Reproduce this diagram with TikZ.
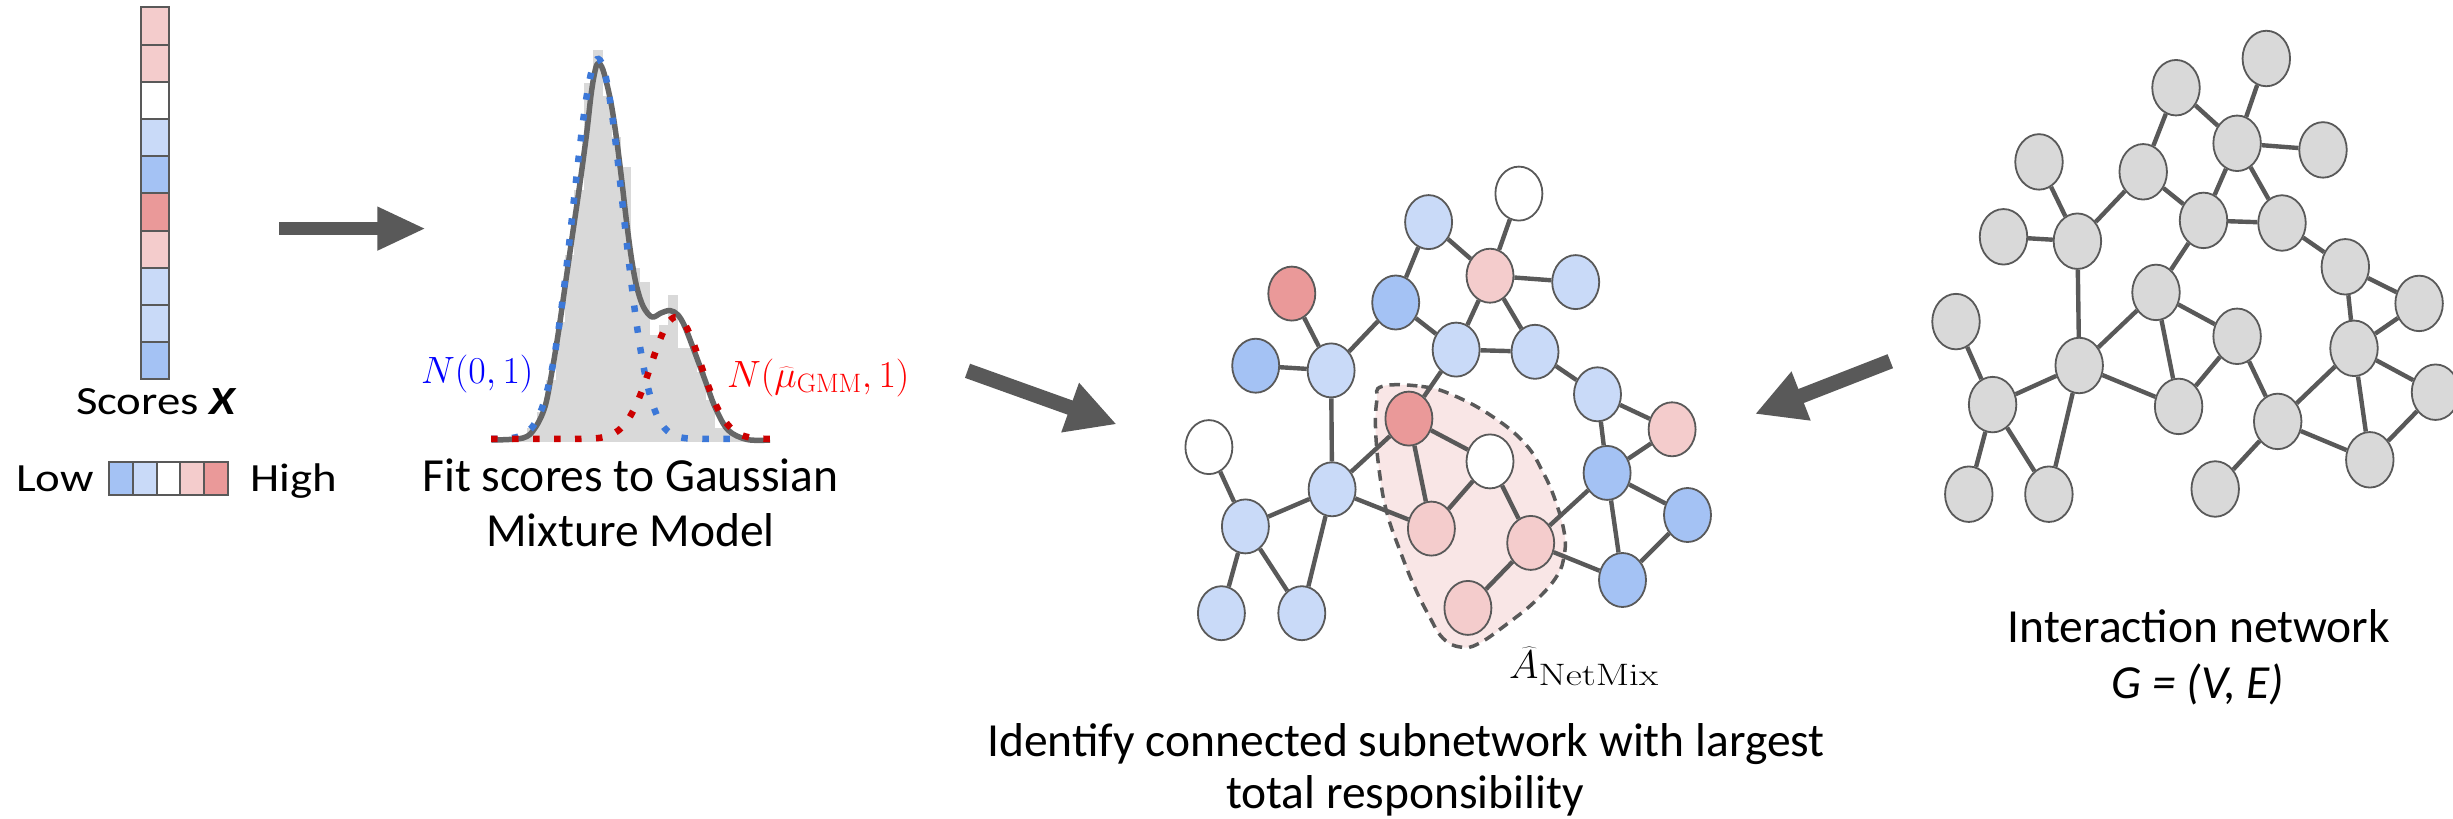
\documentclass[tikz,border=0pt]{standalone}
\usepackage{fix-cm}
\usepackage{graphicx}
\usepackage[no-math]{fontspec}
\usetikzlibrary{arrows.meta,shapes.geometric}

\newfontfamily\labelfont{Carlito}
\newfontfamily\widefont[FakeStretch=1.17]{Carlito}

\definecolor{lineg}{HTML}{595959}
\definecolor{curveg}{HTML}{666666}
\definecolor{histg}{HTML}{D9D9D9}
\definecolor{sPink}{HTML}{F4CCCC}
\definecolor{sRed}{HTML}{EA9999}
\definecolor{sLblue}{HTML}{C9DAF8}
\definecolor{sBlue}{HTML}{A4C2F4}
\definecolor{nodeg}{HTML}{D9D9D9}
\definecolor{blobfill}{HTML}{F9E6E6}
\definecolor{gmmblue}{HTML}{3C78D8}
\definecolor{gmmred}{HTML}{CC0000}

\tikzset{
  cell/.style={draw=lineg, line width=2pt, minimum width=28.5pt, minimum height=37.2pt, inner sep=0pt, outer sep=0pt},
  lcell/.style={draw=lineg, line width=2pt, minimum width=23.8pt, minimum height=33pt, inner sep=0pt, outer sep=0pt},
  smalltxt/.style={inner sep=0pt, font=\widefont\fontsize{40}{48}\selectfont},
  bigtxt/.style={inner sep=0pt, font=\labelfont\fontsize{47.5}{55}\selectfont},
  mathtxt/.style={inner sep=0pt, font=\fontsize{38}{46}\selectfont},
  mnode/.style={ellipse, draw=lineg, line width=1.8pt, minimum width=47pt, minimum height=54pt, inner sep=0pt},
  rnode/.style={mnode, fill=nodeg, minimum width=47.5pt, minimum height=55.5pt},
  net/.style={draw=lineg, line width=4.4pt},
  bigarrow/.style={draw=lineg, line width=#1},
  gmmcurve/.style={line width=6.5pt, dash pattern=on 6.5pt off 14.5pt},
}

\begin{document}
\begin{tikzpicture}[x=1pt, y=-1pt]
\useasboundingbox (0,0) rectangle (2453,819);
\fill[white] (0,0) rectangle (2453,819);

% ---- score column and legend ----
\foreach \col [count=\i] in {sPink,sPink,white,sLblue,sBlue,sRed,sPink,sLblue,sLblue,sBlue}
  \node[cell, fill=\col] (c\i) at (155, {7.3+37.2*(\i-0.5)}) {};
\node[smalltxt, anchor=base] (scoreslbl) at (156.5,414) {Scores \textbf{\textit{X}}};
\foreach \col [count=\i] in {sBlue,sLblue,white,sPink,sRed}
  \node[lcell, fill=\col] (l\i) at ({109+23.8*(\i-0.5)}, 478.5) {};
\node[smalltxt, anchor=base] (lowlbl) at (55,491) {Low};
\node[smalltxt, anchor=base] (highlbl) at (293.5,491) {High};

% ---- arrows between stages ----
\coordinate (a1s) at (279,228.6);
\coordinate (a1e) at (426,228.6);
\draw[bigarrow=13.7pt, -{Triangle[length=48.7pt, width=40.3pt]}] (a1s) -- (a1e);
\coordinate (a2s) at (967.5,370.8);
\coordinate (a2e) at (1116.7,424.3);
\draw[bigarrow=15pt, -{Triangle[length=49.5pt, width=49pt]}] (a2s) -- (a2e);
\coordinate (a3s) at (1890.3,361.2);
\coordinate (a3e) at (1755,414);
\draw[bigarrow=15pt, -{Triangle[length=49.5pt, width=49pt]}] (a3s) -- (a3e);

% ---- histogram with mixture fit ----
\foreach \l/\t in {499.1/440, 508.5/438, 517.9/436, 527.3/428, 536.7/412, 546.1/380,
  555.5/322, 564.9/255, 574.3/190, 583.7/83, 593.1/50, 602.5/96, 611.9/137, 621.3/167,
  630.7/268, 640.1/282, 649.5/335, 658.9/325, 668.3/295, 677.7/348, 687.1/348,
  696.5/372, 705.9/400, 715.3/428, 724.7/432, 734.1/437, 743.5/439.5}
  \fill[histg] (\l,442) rectangle ({\l+9.4},\t);
\draw[curveg, line width=5.5pt, line join=round] plot[smooth, tension=0.55] coordinates {
  (491.7,440) (523,438) (535,428) (545,406.7) (551.7,373) (558.3,333) (565,286.7)
  (571.7,240) (580,183) (586.7,133) (591.7,90) (596.7,65) (601.7,66.7) (606.7,83.3)
  (611.7,106.7) (616.7,140) (621.7,180) (626.7,223) (631.7,260) (636.7,286.7)
  (643.3,306.7) (652,317) (661,313) (670,310.5) (678,315) (685,327) (695,353)
  (705,380) (715,407) (728,430) (747,439.5) (770,440)};
\draw[gmmcurve, gmmblue] plot[domain=491:735, samples=160]
  (\x, {439-380*exp(max(-9,-0.5*((\x-598)/25)^2))});
\draw[gmmcurve, gmmred] plot[domain=491:770, samples=160]
  (\x, {439-122*exp(max(-9,-0.5*((\x-676)/25)^2))});
\node[mathtxt, text=blue, anchor=base west] (n01) at (421,383.3) {$N(0,1)$};
\node[mathtxt, text=red, anchor=base west] (ngmm) at (727,387) {$N(\widehat{\mu}_{\mathrm{GMM}},1)$};
\node[bigtxt, anchor=base] (fit1) at (630.5,491.7) {Fit scores to Gaussian};
\node[bigtxt, anchor=base] (fit2) at (630.5,546.7) {Mixture Model};

% ---- scored network with the selected subnetwork ----
\fill[blobfill] plot[smooth cycle, tension=0.7] coordinates {
  (1382.1,386.4) (1421.4,386.4) (1453.6,395.4) (1492.9,416.8) (1525,443.6)
  (1542.9,472.1) (1555.4,500.7) (1564.3,532.9) (1564.3,554.3) (1557.1,575.7)
  (1535.7,600.7) (1507.1,623.9) (1478.6,643.6) (1460.7,647.1) (1442.9,638.2)
  (1428.6,615) (1414.3,586.4) (1400,550.7) (1387.5,515) (1380.4,479.3)
  (1375.7,432.9) (1376.8,400.7)};
\draw[lineg, line width=3.5pt, dash pattern=on 10.5pt off 7pt] plot[smooth cycle, tension=0.7] coordinates {
  (1382.1,386.4) (1421.4,386.4) (1453.6,395.4) (1492.9,416.8) (1525,443.6)
  (1542.9,472.1) (1555.4,500.7) (1564.3,532.9) (1564.3,554.3) (1557.1,575.7)
  (1535.7,600.7) (1507.1,623.9) (1478.6,643.6) (1460.7,647.1) (1442.9,638.2)
  (1428.6,615) (1414.3,586.4) (1400,550.7) (1387.5,515) (1380.4,479.3)
  (1375.7,432.9) (1376.8,400.7)};

\foreach \n/\x/\y/\c in {
  1/1518.9/193.6/white, 2/1428.6/222.1/sLblue, 3/1490/275.7/sPink,
  4/1575.7/282.1/sLblue, 5/1291.8/293.6/sRed, 6/1395.7/302.5/sBlue,
  7/1456.1/349.6/sLblue, 8/1535/351.8/sLblue, 9/1255.7/365.7/sBlue,
  10/1331.1/370.4/sLblue, 11/1597.5/394.3/sLblue, 12/1408.9/418.6/sRed,
  13/1672.1/429.3/sPink, 14/1208.9/447.1/white, 15/1490/461.4/white,
  16/1607.1/472.9/sBlue, 17/1332.1/489.3/sLblue, 18/1687.5/515/sBlue,
  19/1431.4/528.6/sPink, 20/1245.4/526.4/sLblue, 21/1530.7/542.9/sPink,
  22/1622.5/580/sBlue, 23/1467.9/607.9/sPink, 24/1221.4/613.2/sLblue,
  25/1301.8/613.2/sLblue}
  \node[mnode, fill=\c] (m\n) at (\x,\y) {};

% ---- interaction network ----
\foreach \n/\x/\y in {
  1/2266.3/58.5, 2/2176/87.7, 3/2237.1/143.3, 4/2323/149.9, 5/2039/161.9,
  6/2143.2/171.8, 7/2203.5/220.4, 8/2282/223, 9/2003.5/236.8, 10/2077.4/241.2,
  11/2345.3/266.8, 12/2156/292.4, 13/2419.1/303.4, 14/1956/321.6, 15/2237.1/336.3,
  16/2354/348.3, 17/2079.2/365.5, 18/2435.5/392.2, 19/2178.6/406.4, 20/1992.6/404.6,
  21/2277.7/421.4, 22/2369.8/459.8, 23/2215.2/489, 24/1968.8/494.2, 25/2048.9/494.2}
  \node[rnode] (r\n) at (\x,\y) {};

% both networks share the same edge set
\foreach \a/\b in {2/3,1/3,3/4,3/7,3/8,2/6,6/7,7/8,7/12,6/10,5/10,9/10,10/17,8/11,
  11/13,11/16,13/16,16/18,16/22,18/22,16/21,21/22,12/15,12/19,12/17,15/19,15/21,
  21/23,17/19,17/20,17/25,14/20,20/24,20/25}{
  \draw[net] (m\a) -- (m\b);
  \draw[net] (r\a) -- (r\b);
}

\node[inner sep=0pt, font=\fontsize{40}{48}\selectfont, anchor=base west] (anetmix) at (1509,678)
  {$\widehat{A}_{\scalebox{1.27}[1]{\fontsize{31}{31}\selectfont$\mathrm{NetMix}$}}$};
\node[bigtxt, anchor=base] (sub1) at (1406,756.7) {Identify connected subnetwork with largest};
\node[bigtxt, anchor=base] (sub2) at (1405,808) {total responsibility};
\node[bigtxt, anchor=base] (net1) at (2199,642.7) {Interaction network};
\node[bigtxt, anchor=base] (net2) at (2198,698) {\textit{G = (V, E)}};
\end{tikzpicture}
\end{document}
